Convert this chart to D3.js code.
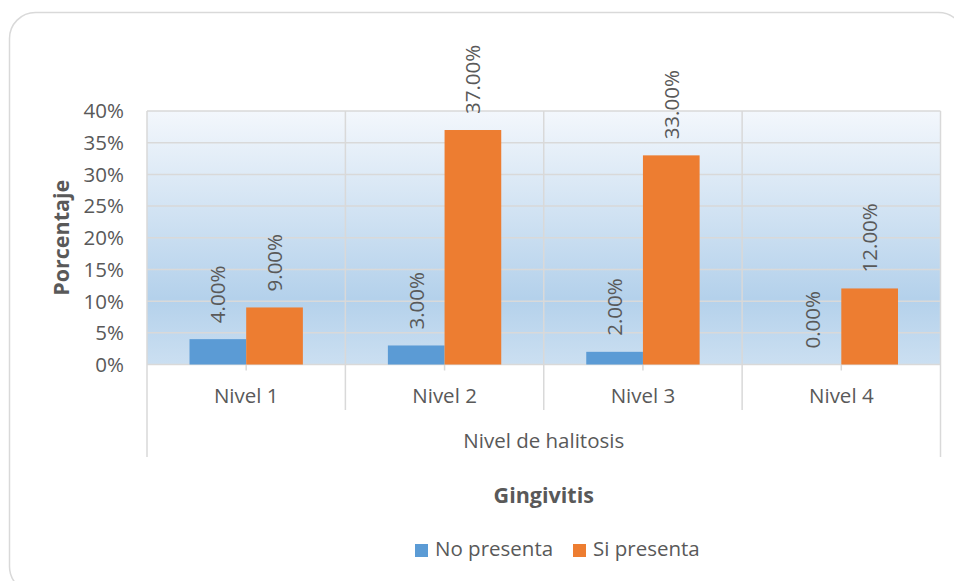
<!DOCTYPE html>
<html>
<head>
<meta charset="utf-8">
<script src="https://cdn.jsdelivr.net/npm/d3@7"></script>
<style>
  html, body { margin: 0; padding: 0; background: #fff; }
  svg { display: block; font-family: "Open Sans", "Noto Sans", sans-serif; }
</style>
</head>
<body>
<svg id="chart" width="954" height="581"></svg>
<script>
// Halitosis level vs. gingivitis presence (percent of patients)
const categories = ["Nivel 1", "Nivel 2", "Nivel 3", "Nivel 4"];
const seriesNames = ["No presenta", "Si presenta"];
const noPresenta = [4, 3, 2, 0];
const siPresenta = [9, 37, 33, 12];
const yTicks = [0, 5, 10, 15, 20, 25, 30, 35, 40];
const colors = ["#5b9bd5", "#ed7d31"];

const series = [noPresenta, siPresenta];
const svg = d3.select("#chart");
const textColor = "#595959";
const gridColor = "#d9d9d9";
const fs = 20.5;

const plot = { left: 147, right: 940.5, top: 111, bottom: 364.5 };

// chart frame with rounded corners
svg.append("rect")
  .attr("x", 9.5).attr("y", 12.5)
  .attr("width", 955).attr("height", 580)
  .attr("rx", 26).attr("ry", 26)
  .attr("fill", "#fff")
  .attr("stroke", "#d9d9d9").attr("stroke-width", 1.5);

// plot-area gradient fill
const defs = svg.append("defs");
const grad = defs.append("linearGradient").attr("id", "plotFill")
  .attr("x1", 0).attr("y1", 0).attr("x2", 0).attr("y2", 1);
grad.append("stop").attr("offset", "0%").attr("stop-color", "#f3f7fc");
grad.append("stop").attr("offset", "74%").attr("stop-color", "#b4d1eb");
grad.append("stop").attr("offset", "100%").attr("stop-color", "#cbdff1");

const x0 = d3.scaleBand().domain(categories).range([plot.left, plot.right]).paddingInner(0).paddingOuter(0);
const y = d3.scaleLinear().domain([0, 40]).range([plot.bottom, plot.top]);
// two bars per group with a 150% gap width
const barW = x0.bandwidth() / 3.5;

svg.append("rect")
  .attr("x", plot.left).attr("y", plot.top)
  .attr("width", plot.right - plot.left).attr("height", plot.bottom - plot.top)
  .attr("fill", "url(#plotFill)");

// horizontal gridlines
svg.append("g").selectAll("line").data(yTicks).join("line")
  .attr("x1", plot.left).attr("x2", plot.right)
  .attr("y1", d => y(d)).attr("y2", d => y(d))
  .attr("stroke", gridColor).attr("stroke-width", 1.5);

// vertical category separators (plot area + axis label area)
const bounds = categories.map(c => x0(c)).concat([plot.right]);
svg.append("g").selectAll("line").data(bounds).join("line")
  .attr("x1", d => d).attr("x2", d => d)
  .attr("y1", plot.top)
  .attr("y2", (d, i) => (i === 0 || i === bounds.length - 1) ? 457 : 410)
  .attr("stroke", gridColor).attr("stroke-width", 1.5);

// center tick marks below axis
svg.append("g").selectAll("line").data(categories).join("line")
  .attr("x1", d => x0(d) + x0.bandwidth() / 2).attr("x2", d => x0(d) + x0.bandwidth() / 2)
  .attr("y1", plot.bottom).attr("y2", plot.bottom + 6)
  .attr("stroke", gridColor).attr("stroke-width", 1.5);

// bars
const bars = [];
categories.forEach((c, i) => {
  series.forEach((s, j) => {
    const cx = x0(c) + x0.bandwidth() / 2;
    bars.push({ c, j, v: s[i], x: cx - barW + j * barW });
  });
});
svg.append("g").selectAll("rect").data(bars).join("rect")
  .attr("x", d => d.x).attr("width", barW)
  .attr("y", d => y(d.v)).attr("height", d => y(0) - y(d.v))
  .attr("fill", d => colors[d.j]);

// value labels, rotated
svg.append("g").selectAll("text").data(bars).join("text")
  .attr("transform", d => `translate(${d.x + barW / 2},${y(d.v) - 16}) rotate(-90)`)
  .attr("dy", "0.36em")
  .attr("text-anchor", "start")
  .attr("fill", textColor).attr("font-size", fs)
  .text(d => d.v.toFixed(2) + "%");

// y tick labels
svg.append("g").selectAll("text").data(yTicks).join("text")
  .attr("x", 124).attr("y", d => y(d)).attr("dy", "0.36em")
  .attr("text-anchor", "end").attr("fill", textColor).attr("font-size", fs)
  .text(d => d + "%");

// category labels
svg.append("g").selectAll("text").data(categories).join("text")
  .attr("x", d => x0(d) + x0.bandwidth() / 2).attr("y", 403)
  .attr("text-anchor", "middle").attr("fill", textColor).attr("font-size", fs)
  .text(d => d);

svg.append("text")
  .attr("x", (plot.left + plot.right) / 2).attr("y", 448)
  .attr("text-anchor", "middle").attr("fill", textColor).attr("font-size", fs)
  .text("Nivel de halitosis");

// axis titles
svg.append("text")
  .attr("transform", `translate(69,${(plot.top + plot.bottom) / 2}) rotate(-90)`)
  .attr("text-anchor", "middle").attr("fill", textColor)
  .attr("font-size", 21.5).attr("font-weight", "bold")
  .text("Porcentaje");

svg.append("text")
  .attr("x", (plot.left + plot.right) / 2).attr("y", 503)
  .attr("text-anchor", "middle").attr("fill", textColor)
  .attr("font-size", 21.5).attr("font-weight", "bold")
  .text("Gingivitis");

// legend
const legendX = [415, 573];
const lg = svg.append("g").selectAll("g").data(seriesNames).join("g")
  .attr("transform", (d, i) => `translate(${legendX[i]},544)`);
lg.append("rect").attr("width", 13).attr("height", 13).attr("fill", (d, i) => colors[i]);
lg.append("text").attr("x", 20).attr("y", 12)
  .attr("fill", textColor).attr("font-size", fs).text(d => d);
</script>
</body>
</html>
